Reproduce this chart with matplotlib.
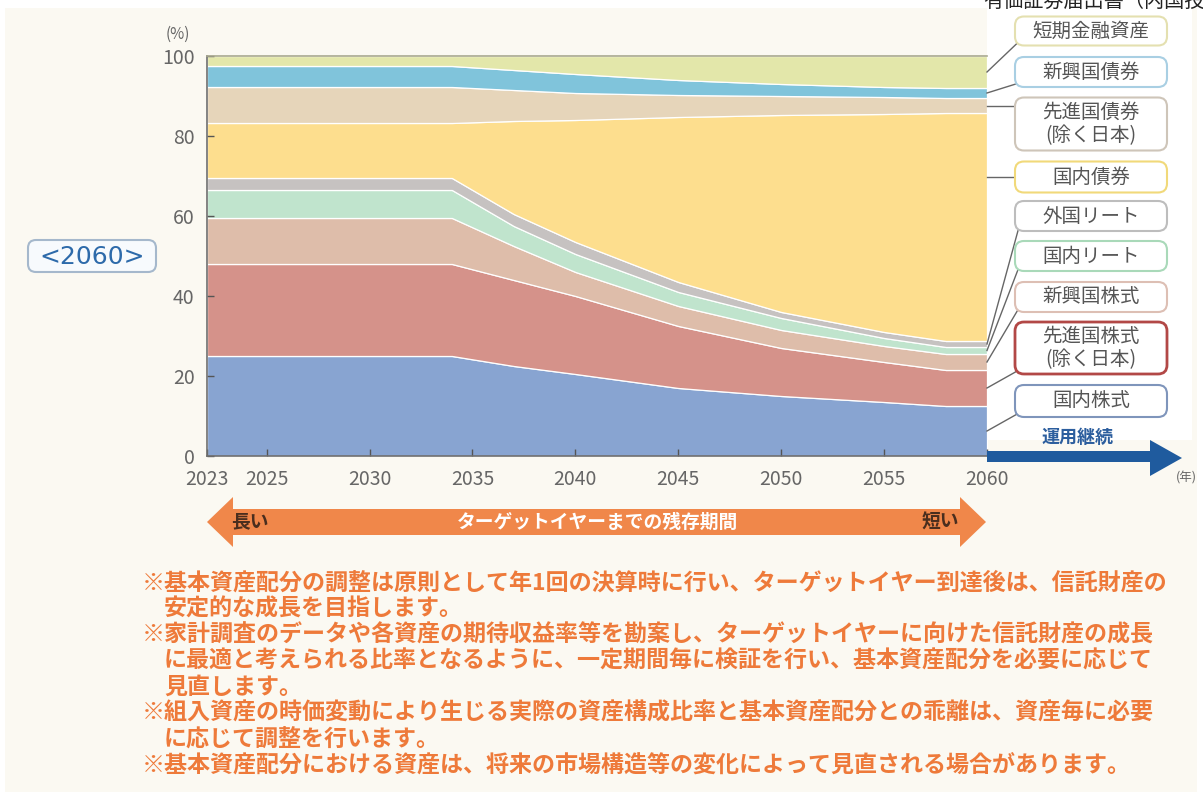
import numpy as np
import matplotlib
matplotlib.use('Agg')
import matplotlib.pyplot as plt
from matplotlib.patches import FancyBboxPatch, Polygon, Rectangle

plt.rcParams['font.family'] = ['Noto Sans CJK JP', 'DejaVu Sans']

# ---------------- data ----------------
years = [2023, 2034, 2037, 2040, 2045, 2050, 2055, 2058, 2060]
dom_equity   = [25.0, 25.0, 22.5, 20.5, 17.0, 15.0, 13.5, 12.5, 12.5]
dev_equity   = [23.0, 23.0, 21.5, 19.5, 15.5, 12.0, 10.0, 9.0, 9.0]
em_equity    = [11.5, 11.5, 8.5, 6.0, 5.0, 4.5, 4.0, 4.0, 4.0]
dom_reit     = [7.0, 7.0, 5.0, 4.5, 3.5, 3.0, 2.0, 1.75, 1.75]
for_reit     = [3.0, 3.0, 3.0, 3.0, 2.5, 1.5, 1.5, 1.5, 1.5]
dom_bond     = [13.75, 13.75, 23.25, 30.5, 41.25, 49.25, 54.5, 57.0, 57.0]
dev_bond     = [9.0, 9.0, 7.75, 6.75, 5.5, 4.75, 4.25, 3.75, 3.75]
em_bond      = [5.25, 5.25, 5.0, 4.75, 3.75, 3.0, 2.5, 2.5, 2.5]
short_term   = [2.5, 2.5, 3.5, 4.5, 6.0, 7.0, 7.75, 8.0, 8.0]

series = [dom_equity, dev_equity, em_equity, dom_reit, for_reit,
          dom_bond, dev_bond, em_bond, short_term]
labels = ['国内株式', '先進国株式\n(除く日本)', '新興国株式', '国内リート', '外国リート',
          '国内債券', '先進国債券\n(除く日本)', '新興国債券', '短期金融資産']
fill_colors = ['#88A4D1', '#D5928A', '#DEBDAA', '#C0E4CD', '#C6C2C1',
               '#FDDE8E', '#E6D5BA', '#80C4DB', '#E3E7AA']
box_edges = ['#7F95BB', '#B24846', '#DDBFB4', '#A9D9B9', '#BDBDBD',
             '#F1D97A', '#CEC5B9', '#A9CFE3', '#E4E0B0']

xtick_years = [2023, 2025, 2030, 2035, 2040, 2045, 2050, 2055, 2060]
ytick_vals = [0, 20, 40, 60, 80, 100]

notes = [
    '※基本資産配分の調整は原則として年1回の決算時に行い、ターゲットイヤー到達後は、信託財産の',
    '安定的な成長を目指します。',
    '※家計調査のデータや各資産の期待収益率等を勘案し、ターゲットイヤーに向けた信託財産の成長',
    'に最適と考えられる比率となるように、一定期間毎に検証を行い、基本資産配分を必要に応じて',
    '見直します。',
    '※組入資産の時価変動により生じる実際の資産構成比率と基本資産配分との乖離は、資産毎に必要',
    'に応じて調整を行います。',
    '※基本資産配分における資産は、将来の市場構造等の変化によって見直される場合があります。',
]

# ---------------- layout ----------------
W, H = 1203, 792
fig = plt.figure(figsize=(W / 100, H / 100), dpi=100)
fig.patch.set_facecolor('white')

bg = fig.add_axes([0, 0, 1, 1], zorder=0)
bg.set_xlim(0, W); bg.set_ylim(H, 0); bg.axis('off')
bg.add_patch(Rectangle((5, 8), 1192, 784, color='#FBF9F2', lw=0))
bg.add_patch(Rectangle((987, 8), 205, 432, color='#FFFFFF', lw=0))

# axis start: the first (2023) point sits at the left edge of a linear year axis
AX_START = 2022.1
x_pos = np.array(years, dtype=float)
x_pos[0] = AX_START

ax = fig.add_axes([207 / W, 1 - 456 / H, 780 / W, 400 / H], zorder=2)
ax.patch.set_alpha(0)
ax.stackplot(x_pos, np.array(series), colors=fill_colors,
             edgecolor='#FFFFFF', linewidth=0.9)
ax.set_xlim(AX_START, 2060)
ax.set_ylim(0, 100)
tick_x = [AX_START] + xtick_years[1:]
ax.set_xticks(tick_x)
ax.set_xticklabels([str(y) for y in xtick_years])
ax.set_yticks(ytick_vals)
ax.tick_params(direction='in', length=5, width=1, color='#555555',
               labelsize=14, labelcolor='#666666', pad=9)
for s in ['left', 'bottom']:
    ax.spines[s].set_color('#6E6E6E'); ax.spines[s].set_linewidth(1.2)
ax.spines['top'].set_color('#A9A98F'); ax.spines['top'].set_linewidth(1.2)
ax.spines['right'].set_visible(False)

# overlay in pixel coordinates
ov = fig.add_axes([0, 0, 1, 1], zorder=3)
ov.set_xlim(0, W); ov.set_ylim(H, 0); ov.axis('off')
ov.patch.set_alpha(0)

fig.canvas.draw()

def data_to_px(x, y):
    dx, dy = ax.transData.transform((x, y))
    return dx, H - dy

ov.text(178, 34, '(%)', fontsize=11, color='#666666', ha='center', va='center')
ov.text(1186, 478, '(年)', fontsize=9, color='#666666', ha='center', va='center')

# legend boxes
box_cy = [401, 348, 297, 256, 216, 177, 124, 72, 31]
box_h = [32, 52, 30, 30, 30, 31, 53, 30, 29]
bx0, bx1 = 1015, 1167
cum = np.cumsum(np.array(series)[:, -1])
lows = np.concatenate([[0], cum[:-1]])
for i, lab in enumerate(labels):
    cy, h = box_cy[i], box_h[i]
    lw = 2.0 if i == 1 else 1.5
    ov.add_patch(FancyBboxPatch((bx0, cy - h / 2), bx1 - bx0, h,
                                boxstyle='round,pad=0,rounding_size=9',
                                fc='white', ec=box_edges[i], lw=lw, zorder=4))
    ov.text((bx0 + bx1) / 2, cy, lab, fontsize=14, color='#555555',
            ha='center', va='center', linespacing=1.1, zorder=5)
    # leader line from the layer at 2060
    _, ytop = data_to_px(2060, cum[i])
    _, ybot = data_to_px(2060, lows[i])
    if ytop <= cy <= ybot:
        y0 = y1 = cy
    else:
        y0 = (ytop + ybot) / 2
        y1 = min(max(y0, cy - h / 2 + 4), cy + h / 2 - 4)
    xr, _ = data_to_px(2060, 0)
    ov.plot([xr, bx0 + 4], [y0, y1], color='#666666', lw=1, zorder=3.5)

# <2060>
ov.add_patch(FancyBboxPatch((28, 240), 128, 32, boxstyle='round,pad=0,rounding_size=8',
                            fc='#F7FAFD', ec='#A5B8CC', lw=1.5))
ov.text(92, 256.5, '<2060>', fontsize=18, color='#2D6AAA', ha='center', va='center',
        family='DejaVu Sans')

# continuing-management arrow
ov.add_patch(Polygon([(987, 451), (1150, 451), (1150, 440), (1182, 458),
                      (1150, 476), (1150, 462), (987, 462)],
                     closed=True, fc='#1F5B9E', ec='none'))
ov.text(1078, 437, '運用継続', fontsize=13, color='#2C5E9E', ha='center', va='center',
        fontweight='bold')

# remaining-period arrow
ay = 522
ov.add_patch(Polygon([(207, ay), (233, ay - 25), (233, ay - 13), (960, ay - 13),
                      (960, ay - 25), (986, ay), (960, ay + 25), (960, ay + 13),
                      (233, ay + 13), (233, ay + 25)],
                     closed=True, fc='#F0874A', ec='none'))
ov.text(250, ay, '長い', fontsize=13.5, color='#4A2E1E', ha='center', va='center',
        fontweight='bold')
ov.text(940, ay, '短い', fontsize=13.5, color='#4A2E1E', ha='center', va='center',
        fontweight='bold')
ov.text(598, ay, 'ターゲットイヤーまでの残存期間', fontsize=13.5, color='white',
        ha='center', va='center', fontweight='bold')

# notes
y = 583
for line in notes:
    x = 142 if line.startswith('※') else 164
    ov.text(x, y, line, fontsize=16.6, color='#EE7A3A', ha='left', va='center',
            fontweight='bold')
    y += 26.1

# cut-off header text at the very top
ov.text(983, 1, '有価証券届出書（内国投資信託受益証券）', fontsize=14.5, color='#222222',
        ha='left', va='center')

fig.savefig('out.png', dpi=100, facecolor=fig.get_facecolor())
